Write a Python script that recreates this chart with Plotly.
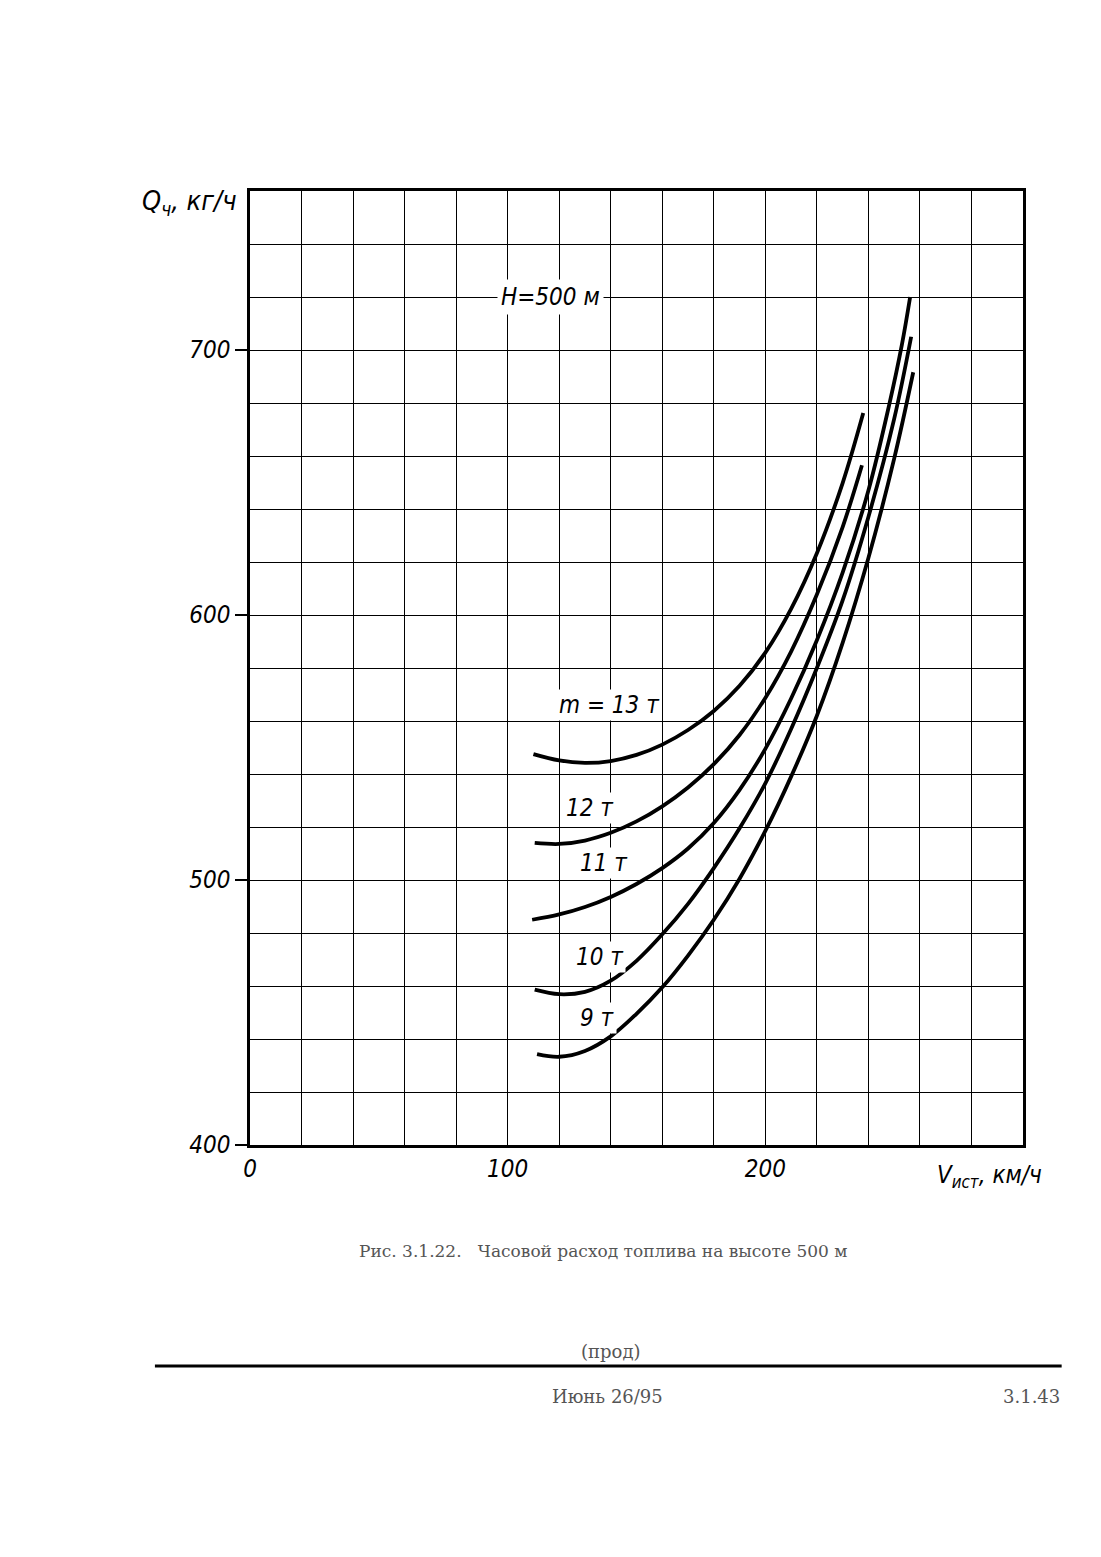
import plotly.graph_objects as go

# fuel flow curves: V (km/h) -> Q (kg/h), one pair per mass
v_13 = [110, 120, 130, 140, 150, 160, 170, 180, 190, 200, 210, 220, 230, 238]
q_13 = [547.5, 545.1, 544.2, 544.9, 547.2, 551.1, 556.6, 563.8, 573.3, 585.8, 602.3, 623.3, 649.8, 676.2]

v_12 = [110.5, 120, 130, 140, 150, 160, 170, 180, 190, 200, 210, 220, 230, 237.5]
q_12 = [514, 513.6, 514.9, 517.8, 522.1, 527.8, 534.9, 543.7, 554.7, 568.7, 586.2, 607.7, 633.2, 656.5]

v_11 = [109.5, 120, 130, 140, 150, 160, 170, 180, 190, 200, 210, 220, 230, 240, 248, 253, 256.2]
q_11 = [485, 487, 489.8, 493.6, 498.5, 504.5, 511.9, 521.5, 534, 549.5, 568.5, 590.5, 616, 647, 679, 702, 720]

v_10 = [110.5, 120, 130, 140, 150, 160, 170, 180, 190, 200, 210, 220, 230, 240, 250, 256.6]
q_10 = [458.6, 456.9, 457.8, 462, 469.5, 479.5, 491, 504.5, 519.5, 536.5, 557, 580, 605.5, 637, 674, 705]

v_9 = [111.4, 120, 130, 140, 150, 160, 170, 180, 190, 200, 210, 220, 230, 240, 250, 257.4]
q_9 = [434.3, 433.3, 435.5, 441, 449.5, 459.5, 471.5, 485, 500.5, 518.5, 539, 562, 589.5, 621.5, 659, 691.6]

curves = [(v_13, q_13), (v_12, q_12), (v_11, q_11), (v_10, q_10), (v_9, q_9)]

# curve labels: text, V, Q
label_text = ["m = 13 т", "12 т", "11 т", "10 т", "9 т"]
label_v = [139.5, 132, 137.5, 136, 135]
label_q = [566, 527, 506.5, 471, 448]

x_ticks = [0, 100, 200]
y_ticks = [400, 500, 600, 700]

hand = "DejaVu Sans Condensed, Liberation Sans Narrow, sans-serif"
serif = "DejaVu Serif, Liberation Serif, serif"
grey = "#555555"

fig = go.Figure()

for v, q in curves:
    fig.add_trace(go.Scatter(x=v, y=q, mode="lines",
                             line=dict(color="black", width=3.8, shape="spline", smoothing=1.0),
                             showlegend=False, hoverinfo="skip"))

for t, v, q in zip(label_text, label_v, label_q):
    fig.add_annotation(x=v, y=q, text=f"<i>{t}</i>", showarrow=False,
                       font=dict(family=hand, size=24, color="black"),
                       bgcolor="white", borderpad=1)

fig.add_annotation(x=116.5, y=720, text="<i>H=500 м</i>", showarrow=False,
                   font=dict(family=hand, size=24, color="black"),
                   bgcolor="white", borderpad=3)

# axis titles
fig.add_annotation(xref="paper", yref="paper", x=-0.078, y=0.988,
                   xanchor="center", yanchor="middle",
                   text="<i>Q<sub>ч</sub>, кг/ч</i>", showarrow=False,
                   font=dict(family=hand, size=27, color="black"))
fig.add_annotation(xref="paper", yref="paper", x=0.957, y=-0.0325,
                   xanchor="center", yanchor="middle",
                   text="<i>V<sub>ист</sub>, км/ч</i>", showarrow=False,
                   font=dict(family=hand, size=24, color="black"))

# page caption and footer
fig.add_annotation(xref="paper", yref="paper", x=0.457, y=-0.111,
                   xanchor="center", yanchor="middle",
                   text="Рис. 3.1.22.   Часовой расход топлива на высоте 500 м",
                   showarrow=False, font=dict(family=serif, size=17, color=grey))
fig.add_annotation(xref="paper", yref="paper", x=0.466, y=-0.216,
                   xanchor="center", yanchor="middle",
                   text="(прод)", showarrow=False,
                   font=dict(family=serif, size=18, color=grey))
fig.add_shape(type="line", xref="paper", yref="paper", x0=-0.123, x1=1.050,
              y0=-0.2317, y1=-0.2317, line=dict(color="black", width=3))
fig.add_annotation(xref="paper", yref="paper", x=0.462, y=-0.264,
                   xanchor="center", yanchor="middle",
                   text="Июнь 26/95", showarrow=False,
                   font=dict(family=serif, size=18, color=grey))
fig.add_annotation(xref="paper", yref="paper", x=1.050, y=-0.264,
                   xanchor="right", yanchor="middle",
                   text="3.1.43", showarrow=False,
                   font=dict(family=serif, size=18, color=grey))

fig.update_xaxes(range=[0, 300], tickvals=x_ticks, ticks="",
                 tickfont=dict(family=hand, size=24, color="black", style="italic"),
                 showgrid=True, gridcolor="black", gridwidth=1.4,
                 minor=dict(dtick=20, showgrid=True, gridcolor="black", gridwidth=1.4),
                 showline=True, linecolor="black", linewidth=2.5, mirror=True,
                 zeroline=False, fixedrange=True)
fig.update_yaxes(range=[400, 760], tickvals=y_ticks, ticks="outside", ticklen=12,
                 tickcolor="black", tickwidth=1.5,
                 tickfont=dict(family=hand, size=24, color="black", style="italic"),
                 showgrid=True, gridcolor="black", gridwidth=1.4,
                 minor=dict(dtick=20, showgrid=True, gridcolor="black", gridwidth=1.4),
                 showline=True, linecolor="black", linewidth=2.5, mirror=True,
                 zeroline=False, fixedrange=True)

fig.update_layout(width=1101, height=1557,
                  margin=dict(l=242, r=86, t=183, b=420),
                  paper_bgcolor="white", plot_bgcolor="white",
                  showlegend=False)

fig.write_html("out.html")
